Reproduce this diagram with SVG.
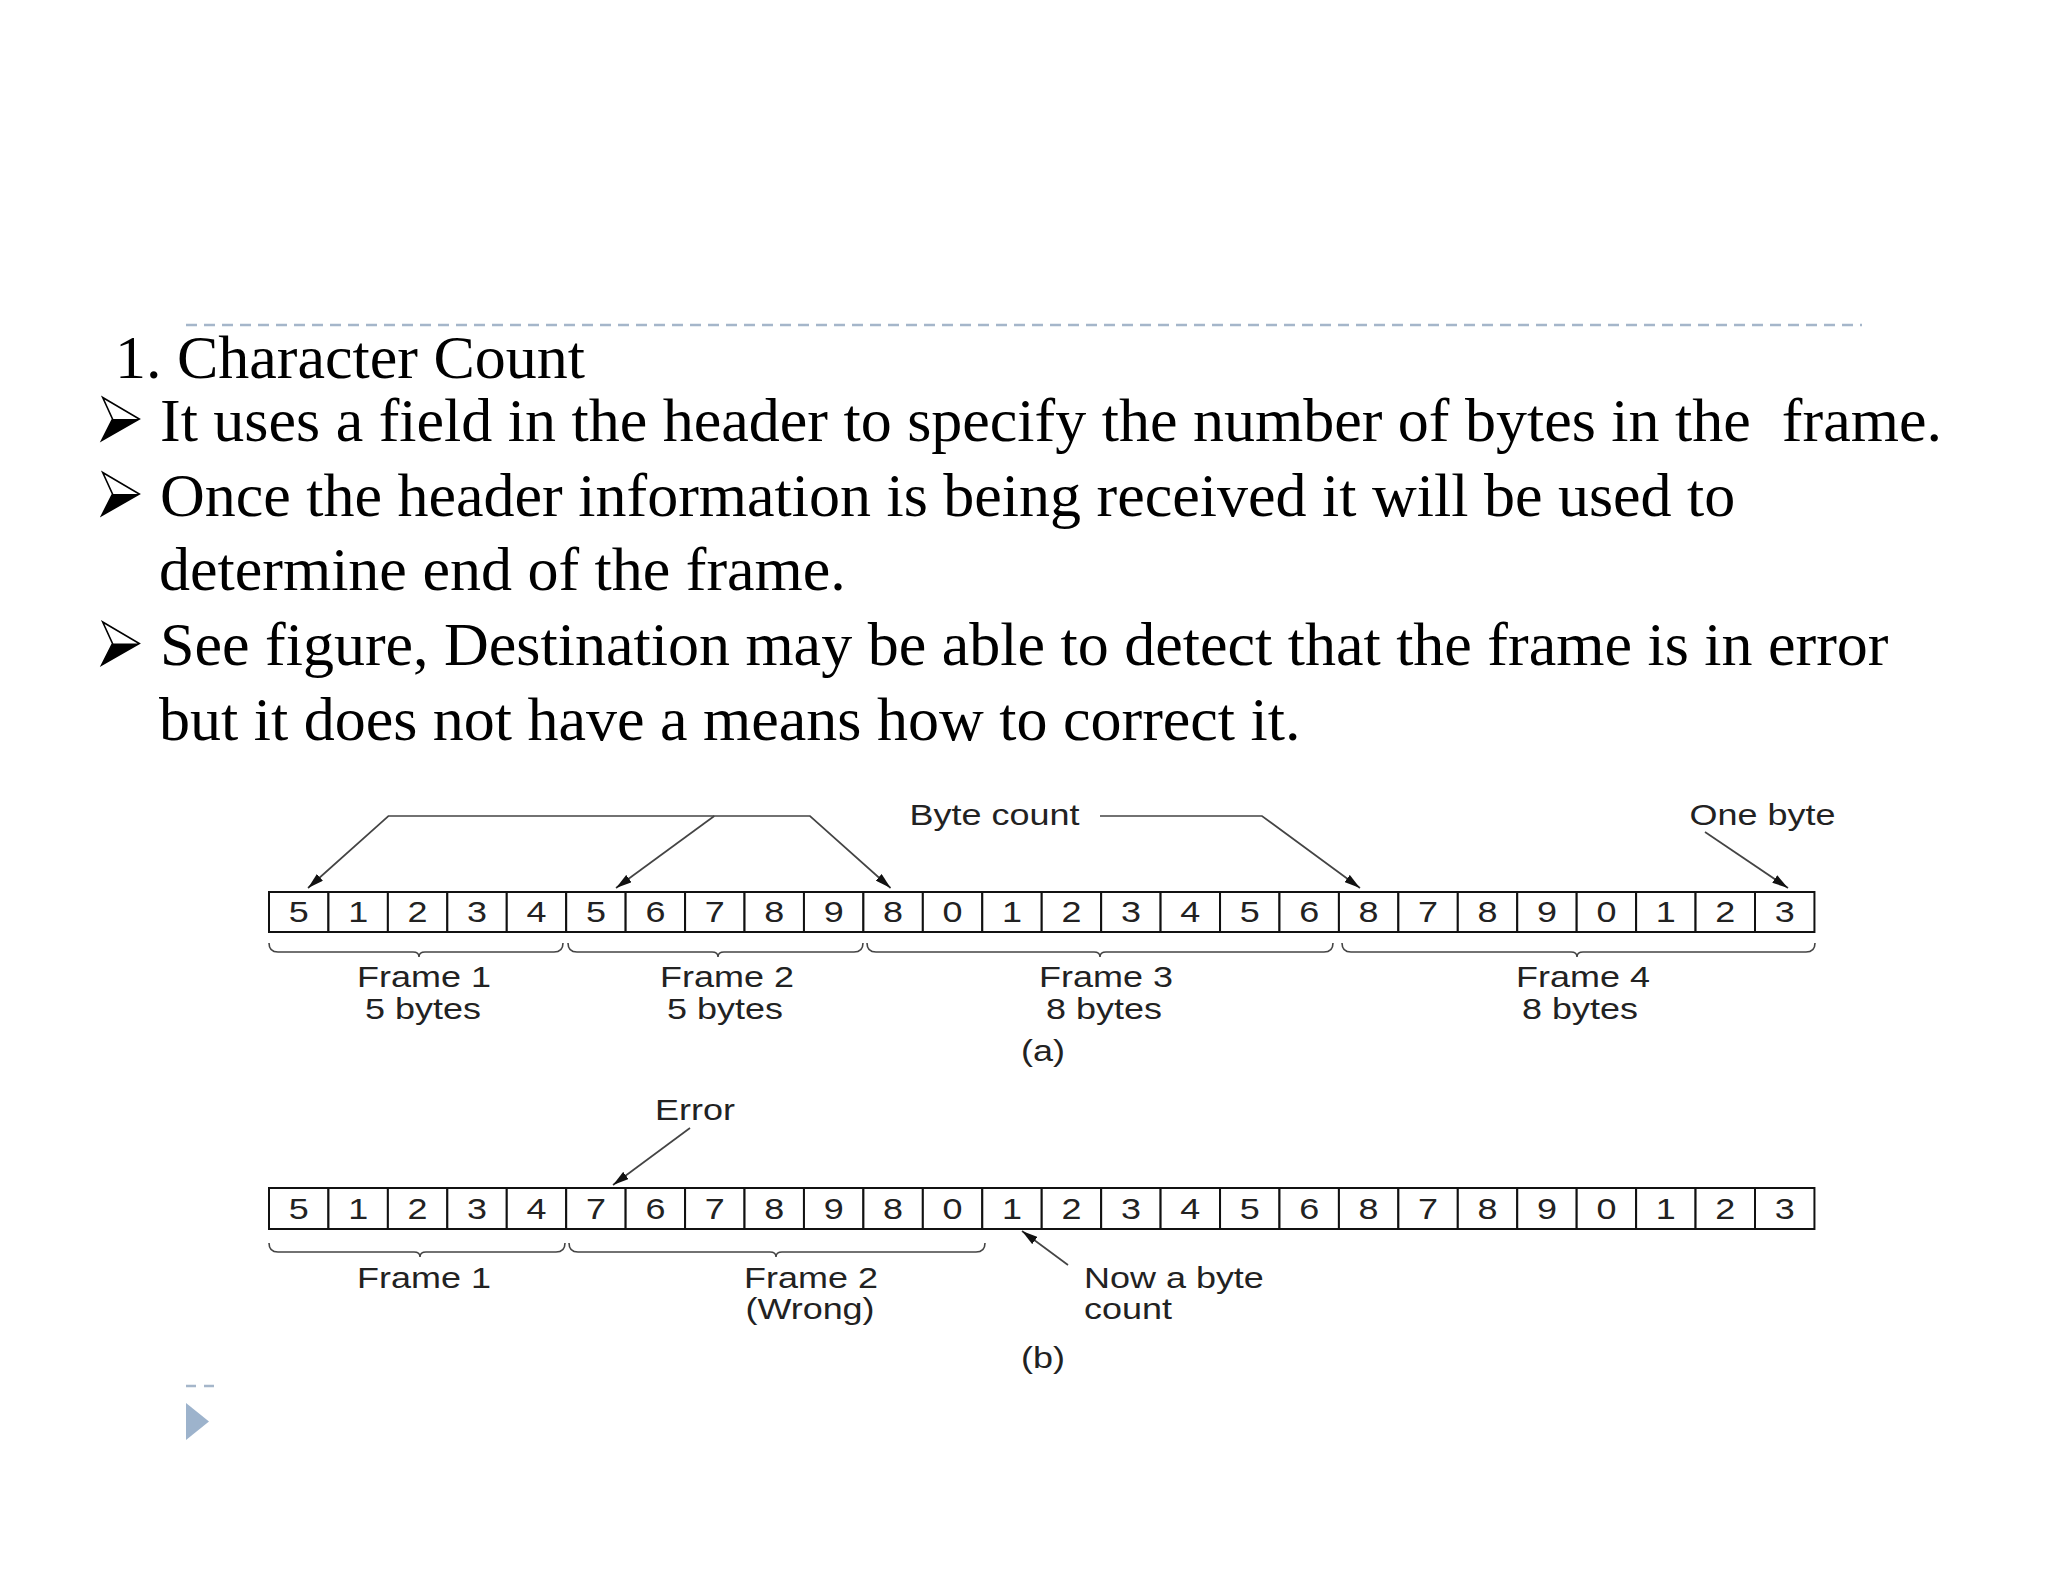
<svg xmlns="http://www.w3.org/2000/svg" xmlns:xlink="http://www.w3.org/1999/xlink" width="2048" height="1582" viewBox="0 0 2048 1582">
<style>
.body{font-family:"Liberation Serif","Times New Roman",serif;font-size:62px;fill:#000}
.cell{fill:#fff;stroke:#111;stroke-width:2}
.dg{font-family:"Liberation Sans",Arial,sans-serif;font-size:29px;fill:#222;text-anchor:middle}
.lb{font-family:"Liberation Sans",Arial,sans-serif;font-size:29px;fill:#222}
.mid{text-anchor:middle}
.con{fill:none;stroke:#444;stroke-width:1.7}
.brace{fill:none;stroke:#444;stroke-width:1.6}
.deco{stroke:#a5b6ca;stroke-width:2.5}
</style>
<defs>
<marker id="ah" viewBox="0 0 16 9" refX="16" refY="4.5" markerWidth="16" markerHeight="9" markerUnits="userSpaceOnUse" orient="auto-start-reverse">
<path d="M0,0 L16,4.5 L0,9 z" fill="#111"/>
</marker>
<g id="bul">
<polygon points="102.7,-43 139.3,-21.5 101.7,0 112.5,-21.5" fill="#fff" stroke="#000" stroke-width="1.6" stroke-linejoin="miter"/>
<polygon points="112.5,-21.5 139.3,-21.5 101.7,0" fill="#000"/>
</g>
</defs>
<rect width="2048" height="1582" fill="#fff"/>

<g id="slide-text">
<line class="deco" x1="186" y1="325" x2="1862" y2="325" stroke-dasharray="11 7"/>
<text class="body" x="115" y="378">1. Character Count</text>
<use xlink:href="#bul" transform="translate(0,440.5)"/>
<text class="body" x="160" y="440.5" xml:space="preserve">It uses a field in the header to specify the number of bytes in the  frame.</text>
<use xlink:href="#bul" transform="translate(0,515.5)"/>
<text class="body" x="160" y="515.5">Once the header information is being received it will be used to</text>
<text class="body" x="159" y="590">determine end of the frame.</text>
<use xlink:href="#bul" transform="translate(0,665)"/>
<text class="body" x="160" y="665">See figure, Destination may be able to detect that the frame is in error</text>
<text class="body" x="159" y="740">but it does not have a means how to correct it.</text>
<line class="deco" x1="186" y1="1386" x2="214" y2="1386" stroke-dasharray="10 8"/>
<polygon points="186,1403 209,1421.5 186,1440" fill="#9db3cc"/>
</g>

<g id="row-a">
<g id="a0"><rect class="cell" x="269" y="892" width="59.44" height="40"/><text class="dg" transform="matrix(1.24 0 0 1 298.7 922.4)">5</text></g>
<g id="a1"><rect class="cell" x="328.44" y="892" width="59.44" height="40"/><text class="dg" transform="matrix(1.24 0 0 1 358.2 922.4)">1</text></g>
<g id="a2"><rect class="cell" x="387.88" y="892" width="59.44" height="40"/><text class="dg" transform="matrix(1.24 0 0 1 417.6 922.4)">2</text></g>
<g id="a3"><rect class="cell" x="447.32" y="892" width="59.44" height="40"/><text class="dg" transform="matrix(1.24 0 0 1 477.0 922.4)">3</text></g>
<g id="a4"><rect class="cell" x="506.76" y="892" width="59.44" height="40"/><text class="dg" transform="matrix(1.24 0 0 1 536.5 922.4)">4</text></g>
<g id="a5"><rect class="cell" x="566.2" y="892" width="59.44" height="40"/><text class="dg" transform="matrix(1.24 0 0 1 595.9 922.4)">5</text></g>
<g id="a6"><rect class="cell" x="625.64" y="892" width="59.44" height="40"/><text class="dg" transform="matrix(1.24 0 0 1 655.4 922.4)">6</text></g>
<g id="a7"><rect class="cell" x="685.08" y="892" width="59.44" height="40"/><text class="dg" transform="matrix(1.24 0 0 1 714.8 922.4)">7</text></g>
<g id="a8"><rect class="cell" x="744.52" y="892" width="59.44" height="40"/><text class="dg" transform="matrix(1.24 0 0 1 774.2 922.4)">8</text></g>
<g id="a9"><rect class="cell" x="803.96" y="892" width="59.44" height="40"/><text class="dg" transform="matrix(1.24 0 0 1 833.7 922.4)">9</text></g>
<g id="a10"><rect class="cell" x="863.4" y="892" width="59.44" height="40"/><text class="dg" transform="matrix(1.24 0 0 1 893.1 922.4)">8</text></g>
<g id="a11"><rect class="cell" x="922.84" y="892" width="59.44" height="40"/><text class="dg" transform="matrix(1.24 0 0 1 952.6 922.4)">0</text></g>
<g id="a12"><rect class="cell" x="982.28" y="892" width="59.44" height="40"/><text class="dg" transform="matrix(1.24 0 0 1 1012.0 922.4)">1</text></g>
<g id="a13"><rect class="cell" x="1041.72" y="892" width="59.44" height="40"/><text class="dg" transform="matrix(1.24 0 0 1 1071.4 922.4)">2</text></g>
<g id="a14"><rect class="cell" x="1101.16" y="892" width="59.44" height="40"/><text class="dg" transform="matrix(1.24 0 0 1 1130.9 922.4)">3</text></g>
<g id="a15"><rect class="cell" x="1160.6" y="892" width="59.44" height="40"/><text class="dg" transform="matrix(1.24 0 0 1 1190.3 922.4)">4</text></g>
<g id="a16"><rect class="cell" x="1220.04" y="892" width="59.44" height="40"/><text class="dg" transform="matrix(1.24 0 0 1 1249.8 922.4)">5</text></g>
<g id="a17"><rect class="cell" x="1279.48" y="892" width="59.44" height="40"/><text class="dg" transform="matrix(1.24 0 0 1 1309.2 922.4)">6</text></g>
<g id="a18"><rect class="cell" x="1338.92" y="892" width="59.44" height="40"/><text class="dg" transform="matrix(1.24 0 0 1 1368.6 922.4)">8</text></g>
<g id="a19"><rect class="cell" x="1398.36" y="892" width="59.44" height="40"/><text class="dg" transform="matrix(1.24 0 0 1 1428.1 922.4)">7</text></g>
<g id="a20"><rect class="cell" x="1457.8" y="892" width="59.44" height="40"/><text class="dg" transform="matrix(1.24 0 0 1 1487.5 922.4)">8</text></g>
<g id="a21"><rect class="cell" x="1517.24" y="892" width="59.44" height="40"/><text class="dg" transform="matrix(1.24 0 0 1 1547.0 922.4)">9</text></g>
<g id="a22"><rect class="cell" x="1576.68" y="892" width="59.44" height="40"/><text class="dg" transform="matrix(1.24 0 0 1 1606.4 922.4)">0</text></g>
<g id="a23"><rect class="cell" x="1636.12" y="892" width="59.44" height="40"/><text class="dg" transform="matrix(1.24 0 0 1 1665.8 922.4)">1</text></g>
<g id="a24"><rect class="cell" x="1695.56" y="892" width="59.44" height="40"/><text class="dg" transform="matrix(1.24 0 0 1 1725.3 922.4)">2</text></g>
<g id="a25"><rect class="cell" x="1755.0" y="892" width="59.44" height="40"/><text class="dg" transform="matrix(1.24 0 0 1 1784.7 922.4)">3</text></g>
</g>

<g id="row-b">
<g id="b0"><rect class="cell" x="269" y="1188" width="59.44" height="41"/><text class="dg" transform="matrix(1.24 0 0 1 298.7 1219)">5</text></g>
<g id="b1"><rect class="cell" x="328.44" y="1188" width="59.44" height="41"/><text class="dg" transform="matrix(1.24 0 0 1 358.2 1219)">1</text></g>
<g id="b2"><rect class="cell" x="387.88" y="1188" width="59.44" height="41"/><text class="dg" transform="matrix(1.24 0 0 1 417.6 1219)">2</text></g>
<g id="b3"><rect class="cell" x="447.32" y="1188" width="59.44" height="41"/><text class="dg" transform="matrix(1.24 0 0 1 477.0 1219)">3</text></g>
<g id="b4"><rect class="cell" x="506.76" y="1188" width="59.44" height="41"/><text class="dg" transform="matrix(1.24 0 0 1 536.5 1219)">4</text></g>
<g id="b5"><rect class="cell" x="566.2" y="1188" width="59.44" height="41"/><text class="dg" transform="matrix(1.24 0 0 1 595.9 1219)">7</text></g>
<g id="b6"><rect class="cell" x="625.64" y="1188" width="59.44" height="41"/><text class="dg" transform="matrix(1.24 0 0 1 655.4 1219)">6</text></g>
<g id="b7"><rect class="cell" x="685.08" y="1188" width="59.44" height="41"/><text class="dg" transform="matrix(1.24 0 0 1 714.8 1219)">7</text></g>
<g id="b8"><rect class="cell" x="744.52" y="1188" width="59.44" height="41"/><text class="dg" transform="matrix(1.24 0 0 1 774.2 1219)">8</text></g>
<g id="b9"><rect class="cell" x="803.96" y="1188" width="59.44" height="41"/><text class="dg" transform="matrix(1.24 0 0 1 833.7 1219)">9</text></g>
<g id="b10"><rect class="cell" x="863.4" y="1188" width="59.44" height="41"/><text class="dg" transform="matrix(1.24 0 0 1 893.1 1219)">8</text></g>
<g id="b11"><rect class="cell" x="922.84" y="1188" width="59.44" height="41"/><text class="dg" transform="matrix(1.24 0 0 1 952.6 1219)">0</text></g>
<g id="b12"><rect class="cell" x="982.28" y="1188" width="59.44" height="41"/><text class="dg" transform="matrix(1.24 0 0 1 1012.0 1219)">1</text></g>
<g id="b13"><rect class="cell" x="1041.72" y="1188" width="59.44" height="41"/><text class="dg" transform="matrix(1.24 0 0 1 1071.4 1219)">2</text></g>
<g id="b14"><rect class="cell" x="1101.16" y="1188" width="59.44" height="41"/><text class="dg" transform="matrix(1.24 0 0 1 1130.9 1219)">3</text></g>
<g id="b15"><rect class="cell" x="1160.6" y="1188" width="59.44" height="41"/><text class="dg" transform="matrix(1.24 0 0 1 1190.3 1219)">4</text></g>
<g id="b16"><rect class="cell" x="1220.04" y="1188" width="59.44" height="41"/><text class="dg" transform="matrix(1.24 0 0 1 1249.8 1219)">5</text></g>
<g id="b17"><rect class="cell" x="1279.48" y="1188" width="59.44" height="41"/><text class="dg" transform="matrix(1.24 0 0 1 1309.2 1219)">6</text></g>
<g id="b18"><rect class="cell" x="1338.92" y="1188" width="59.44" height="41"/><text class="dg" transform="matrix(1.24 0 0 1 1368.6 1219)">8</text></g>
<g id="b19"><rect class="cell" x="1398.36" y="1188" width="59.44" height="41"/><text class="dg" transform="matrix(1.24 0 0 1 1428.1 1219)">7</text></g>
<g id="b20"><rect class="cell" x="1457.8" y="1188" width="59.44" height="41"/><text class="dg" transform="matrix(1.24 0 0 1 1487.5 1219)">8</text></g>
<g id="b21"><rect class="cell" x="1517.24" y="1188" width="59.44" height="41"/><text class="dg" transform="matrix(1.24 0 0 1 1547.0 1219)">9</text></g>
<g id="b22"><rect class="cell" x="1576.68" y="1188" width="59.44" height="41"/><text class="dg" transform="matrix(1.24 0 0 1 1606.4 1219)">0</text></g>
<g id="b23"><rect class="cell" x="1636.12" y="1188" width="59.44" height="41"/><text class="dg" transform="matrix(1.24 0 0 1 1665.8 1219)">1</text></g>
<g id="b24"><rect class="cell" x="1695.56" y="1188" width="59.44" height="41"/><text class="dg" transform="matrix(1.24 0 0 1 1725.3 1219)">2</text></g>
<g id="b25"><rect class="cell" x="1755.0" y="1188" width="59.44" height="41"/><text class="dg" transform="matrix(1.24 0 0 1 1784.7 1219)">3</text></g>
</g>

<g id="braces">
<path class="brace" d="M269,943 q0,9 9,9 H413 q6,0 6,5 q0,-5 6,-5 H554 q9,0 9,-9"/>
<path class="brace" d="M568,943 q0,9 9,9 H712 q6,0 6,5 q0,-5 6,-5 H854 q9,0 9,-9"/>
<path class="brace" d="M867,943 q0,9 9,9 H1094 q6,0 6,5 q0,-5 6,-5 H1324 q9,0 9,-9"/>
<path class="brace" d="M1342,943 q0,9 9,9 H1571 q6,0 6,5 q0,-5 6,-5 H1806 q9,0 9,-9"/>
<path class="brace" d="M269,1243 q0,9 9,9 H414 q6,0 6,5 q0,-5 6,-5 H556 q9,0 9,-9"/>
<path class="brace" d="M569,1243 q0,9 9,9 H770 q6,0 6,5 q0,-5 6,-5 H976 q9,0 9,-9"/>
</g>

<g id="labels">
<text class="lb mid" transform="matrix(1.24 0 0 1 994.5 825)">Byte count</text>
<text class="lb mid" transform="matrix(1.24 0 0 1 1762.5 825)">One byte</text>
<text class="lb mid" transform="matrix(1.24 0 0 1 424 987)">Frame 1</text>
<text class="lb mid" transform="matrix(1.24 0 0 1 423 1019)">5 bytes</text>
<text class="lb mid" transform="matrix(1.24 0 0 1 727 987)">Frame 2</text>
<text class="lb mid" transform="matrix(1.24 0 0 1 725 1019)">5 bytes</text>
<text class="lb mid" transform="matrix(1.24 0 0 1 1106 987)">Frame 3</text>
<text class="lb mid" transform="matrix(1.24 0 0 1 1104 1019)">8 bytes</text>
<text class="lb mid" transform="matrix(1.24 0 0 1 1583 987)">Frame 4</text>
<text class="lb mid" transform="matrix(1.24 0 0 1 1580 1019)">8 bytes</text>
<text class="lb mid" transform="matrix(1.24 0 0 1 1043 1061)">(a)</text>
<text class="lb mid" transform="matrix(1.24 0 0 1 695 1120)">Error</text>
<text class="lb mid" transform="matrix(1.24 0 0 1 424 1288)">Frame 1</text>
<text class="lb mid" transform="matrix(1.24 0 0 1 811 1288)">Frame 2</text>
<text class="lb mid" transform="matrix(1.24 0 0 1 810 1319)">(Wrong)</text>
<text class="lb" transform="matrix(1.24 0 0 1 1084 1288)">Now a byte</text>
<text class="lb" transform="matrix(1.24 0 0 1 1084 1319)">count</text>
<text class="lb mid" transform="matrix(1.24 0 0 1 1043 1368)">(b)</text>
</g>

<g id="connectors">
<path class="con" d="M308,888 L388.4,816 L810,816 L890.6,888" marker-start="url(#ah)" marker-end="url(#ah)"/>
<path class="con" d="M714.3,816 L616,888" marker-end="url(#ah)"/>
<path class="con" d="M1100,816 L1262,816 L1360,888" marker-end="url(#ah)"/>
<path class="con" d="M1705,832 L1788,888" marker-end="url(#ah)"/>
<path class="con" d="M690,1128 L613,1185" marker-end="url(#ah)"/>
<path class="con" d="M1068,1265 L1022,1231" marker-end="url(#ah)"/>
</g>
</svg>
